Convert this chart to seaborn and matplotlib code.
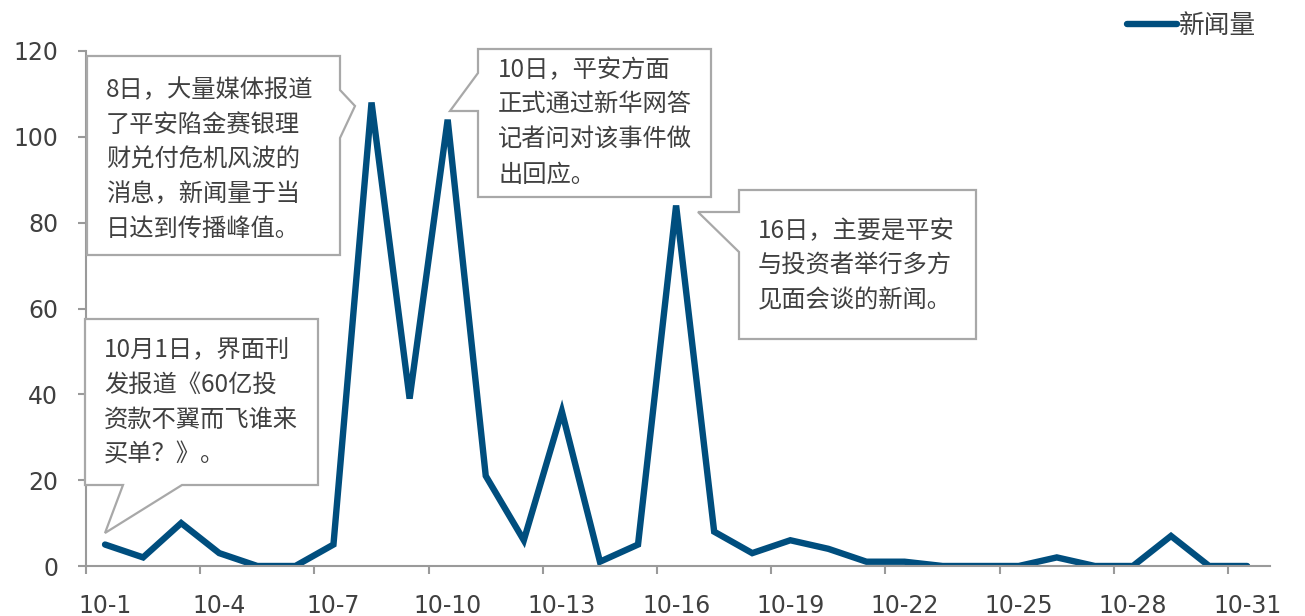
import matplotlib
matplotlib.use("Agg")
import matplotlib.pyplot as plt
from matplotlib.patches import Polygon
from matplotlib.ticker import FixedLocator
import pandas as pd
import seaborn as sns

# === Data: daily news volume, October ===
days = list(range(1, 32))
news = [5, 2, 10, 3, 0, 0, 5, 108, 39, 104, 21, 6, 36, 1, 5, 84,
        8, 3, 6, 4, 1, 1, 0, 0, 0, 2, 0, 0, 7, 0, 0]
tick_days = [1, 4, 7, 10, 13, 16, 19, 22, 25, 28, 31]
tick_labels = ["10-1", "10-4", "10-7", "10-10", "10-13", "10-16",
               "10-19", "10-22", "10-25", "10-28", "10-31"]
y_ticks = [0, 20, 40, 60, 80, 100, 120]

note_1001 = "10月1日，界面刊\n发报道《60亿投\n资款不翼而飞谁来\n买单？》。"
note_08 = "8日，大量媒体报道\n了平安陷金赛银理\n财兑付危机风波的\n消息，新闻量于当\n日达到传播峰值。"
note_10 = "10日，平安方面\n正式通过新华网答\n记者问对该事件做\n出回应。"
note_16 = "16日，主要是平安\n与投资者举行多方\n见面会谈的新闻。"

df = pd.DataFrame({"day": days, "news": news})

# === Style ===
sns.set_theme(style="white")
plt.rcParams["font.family"] = ["Noto Sans CJK SC", "DejaVu Sans"]

W, H = 1305, 616
fig = plt.figure(figsize=(W / 100, H / 100), dpi=100)
ax = fig.add_axes([86 / W, 1 - 566 / H, (1270 - 86) / W, (566 - 51) / H])

line_color = "#004E7E"
text_color = "#404040"
axis_color = "#9A9A9A"

sns.lineplot(data=df, x="day", y="news", ax=ax, color=line_color,
             linewidth=4.6, label="新闻量", solid_capstyle="round",
             solid_joinstyle="miter")

ax.set_xlim(0.5, 31.6)
ax.set_ylim(0, 120)
ax.set_xticks(tick_days)
ax.set_xticklabels(tick_labels)
ax.xaxis.set_minor_locator(FixedLocator([d - 0.5 for d in tick_days]))
ax.set_yticks(y_ticks)
ax.set_xlabel("")
ax.set_ylabel("")

ax.tick_params(axis="x", which="major", length=0, pad=20,
               labelsize=17, labelcolor=text_color)
ax.tick_params(axis="x", which="minor", length=6, width=1.5,
               color=axis_color, direction="out", bottom=True)
ax.tick_params(axis="y", length=6, width=1.5, color=axis_color,
               direction="out", left=True, pad=14, labelsize=17,
               labelcolor=text_color)
for lab in ax.get_xticklabels() + ax.get_yticklabels():
    lab.set_fontfamily("DejaVu Sans")

for side in ["top", "right"]:
    ax.spines[side].set_visible(False)
for side in ["left", "bottom"]:
    ax.spines[side].set_color(axis_color)
    ax.spines[side].set_linewidth(1.5)

leg = ax.legend(loc="upper right", bbox_to_anchor=(1274 / W, 1.008),
                bbox_transform=fig.transFigure, frameon=False,
                fontsize=18.5, handlelength=1.95, handletextpad=0.05,
                borderaxespad=0.3)
for t in leg.get_texts():
    t.set_color(text_color)


# === Callout boxes (pixel coords, y down) ===
def px(pts):
    return [(x / W, 1 - y / H) for x, y in pts]


def callout(pts, text, tx, ty):
    poly = Polygon(px(pts), closed=True, transform=fig.transFigure,
                   facecolor="white", edgecolor="#A8A8A8", linewidth=1.6,
                   zorder=5, clip_on=False)
    ax.add_patch(poly)
    fig.text(tx / W, 1 - ty / H, text, fontsize=17.5, color=text_color,
             ha="left", va="top", linespacing=1.44, zorder=6)


callout([(87, 56), (340, 56), (340, 90), (355, 106), (340, 138),
         (340, 255), (87, 255)], note_08, 106, 77)
callout([(478, 49), (711, 49), (711, 197), (478, 197), (478, 111),
         (450, 111), (478, 73)], note_10, 498, 57)
callout([(739, 190), (976, 190), (976, 339), (739, 339), (739, 252),
         (698, 212), (739, 212)], note_16, 758, 218)
callout([(85, 319), (318, 319), (318, 485), (182, 485), (105, 533),
         (123, 485), (85, 485)], note_1001, 104, 337)

fig.savefig("out.png", dpi=100)
